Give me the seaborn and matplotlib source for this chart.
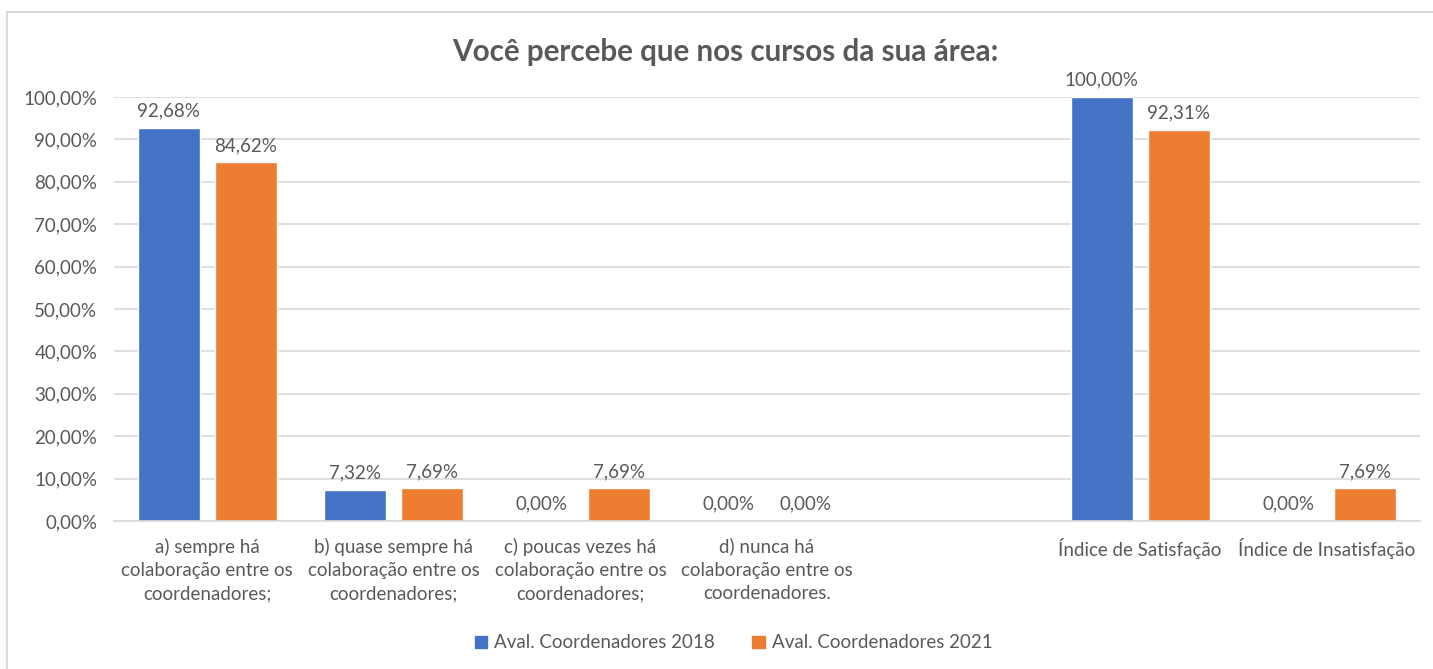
import matplotlib
import matplotlib.pyplot as plt
import pandas as pd
import seaborn as sns
from matplotlib.patches import Rectangle

matplotlib.use('Agg')

categorias = [
    "a) sempre há\ncolaboração entre os\ncoordenadores;",
    "b) quase sempre há\ncolaboração entre os\ncoordenadores;",
    "c) poucas vezes há\ncolaboração entre os\ncoordenadores;",
    "d) nunca há\ncolaboração entre os\ncoordenadores.",
    "Índice de Satisfação",
    "Índice de Insatisfação",
]
# ordem no eixo, com um espaço vazio antes dos índices
ordem = categorias[:4] + [" "] + categorias[4:]
series = ["Aval. Coordenadores 2018", "Aval. Coordenadores 2021"]
valores_2018 = [0.9268, 0.0732, 0.0, 0.0, 1.0, 0.0]
valores_2021 = [0.8462, 0.0769, 0.0769, 0.0, 0.9231, 0.0769]
cores = ["#4472C4", "#ED7D31"]
titulo = "Você percebe que nos cursos da sua área:"

df = pd.DataFrame({
    "categoria": categorias * 2,
    "serie": [series[0]] * 6 + [series[1]] * 6,
    "valor": valores_2018 + valores_2021,
})

cinza = "#595959"
fs = 13.5
sns.set_theme(style="white")
plt.rcParams['font.family'] = ['Lato', 'DejaVu Sans']

fig = plt.figure(figsize=(14.33, 6.69), dpi=100)
ax = fig.add_axes([114 / 1433, 1 - 521 / 669, (1420 - 114) / 1433, (521 - 97) / 669])

sns.barplot(data=df, x="categoria", y="valor", hue="serie", order=ordem,
            hue_order=series, palette=cores, width=0.824, gap=0.194,
            saturation=1, ax=ax, legend=False)

for cont in ax.containers:
    rotulos = [f"{v * 100:.2f}%".replace(".", ",") for v in cont.datavalues]
    txt = ax.bar_label(cont, labels=rotulos, padding=6, fontsize=fs, color=cinza)
    for t in txt:
        t.set_clip_on(False)

ax.set_ylim(0, 1)
ax.set_yticks([i / 10 for i in range(11)])
ax.set_yticklabels([f"{i * 10},00%" for i in range(11)])
ax.yaxis.grid(True, color="#d9d9d9", linewidth=1.2)
ax.set_axisbelow(True)
for s in ["top", "right", "left"]:
    ax.spines[s].set_visible(False)
ax.spines["bottom"].set_color("#d9d9d9")
ax.spines["bottom"].set_linewidth(1.2)
ax.tick_params(axis="both", length=0, labelsize=fs, labelcolor=cinza)
ax.tick_params(axis="y", pad=12)
ax.tick_params(axis="x", pad=12)
for t in ax.get_xticklabels():
    t.set_linespacing(1.45)
ax.set_xlabel("")
ax.set_ylabel("")

fig.text(0.506, 1 - 52 / 669, titulo, ha="center", va="center",
         fontsize=21.3, fontweight="bold", color=cinza)

handles = [Rectangle((0, 0), 1, 1, color=c) for c in cores]
fig.legend(handles, series, loc="center", bbox_to_anchor=(0.512, 1 - 643 / 669),
           ncol=2, frameon=False, fontsize=fs, labelcolor=cinza,
           handlelength=0.65, handleheight=0.65, handletextpad=0.4,
           columnspacing=2.0)

fig.patches.append(Rectangle((7 / 1433, -0.01), 1.0, 1 - 12 / 669 + 0.01,
                             transform=fig.transFigure, fill=False,
                             edgecolor="#d9d9d9", linewidth=1.5))

fig.savefig("out.png", dpi=100)
plt.close()
